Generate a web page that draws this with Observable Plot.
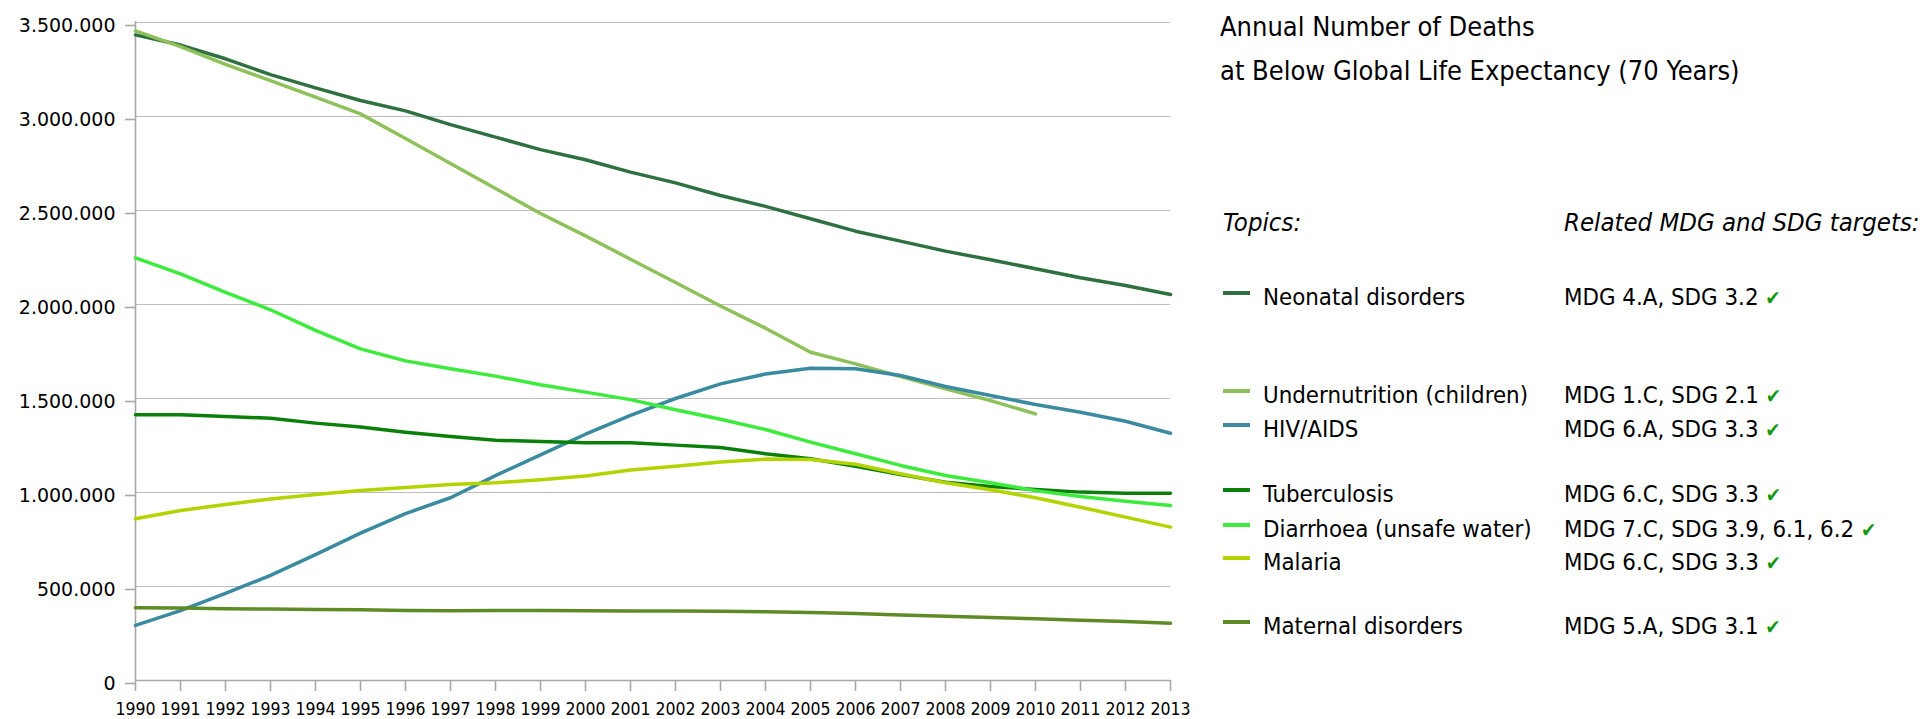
<!DOCTYPE html>
<html><head><meta charset="utf-8">
<script src="https://cdn.jsdelivr.net/npm/d3@7"></script>
<script src="https://cdn.jsdelivr.net/npm/@observablehq/plot@0.6"></script>
<style>
body{margin:0;background:#fff;}
#wrap{position:relative;width:1932px;height:719px;overflow:hidden;font-family:"DejaVu Sans Condensed","DejaVu Sans",sans-serif;color:#000;background:#fff;}
#chart{position:absolute;left:0;top:0;}
.t{position:absolute;white-space:nowrap;line-height:1.2;}
.sw{position:absolute;height:4px;width:27px;}
.ck{color:#119911;font-size:0.85em;}
</style></head><body><div id="wrap"><div id="chart"></div></div>
<script>
// ---- data ----
const years = [1990,1991,1992,1993,1994,1995,1996,1997,1998,1999,2000,2001,2002,2003,2004,2005,2006,2007,2008,2009,2010,2011,2012,2013];
const seriesNames = ["Neonatal disorders","Undernutrition (children)","HIV/AIDS","Tuberculosis","Diarrhoea (unsafe water)","Malaria","Maternal disorders"];
const targets = ["MDG 4.A, SDG 3.2","MDG 1.C, SDG 2.1","MDG 6.A, SDG 3.3","MDG 6.C, SDG 3.3","MDG 7.C, SDG 3.9, 6.1, 6.2","MDG 6.C, SDG 3.3","MDG 5.A, SDG 3.1"];
const colors = ["#2f7040","#8fc15a","#3a8aa0","#0a7f0a","#3deb3d","#b3d400","#5f8b27"];
const neonatal = [3434000,3380000,3307000,3223000,3152000,3085000,3030000,2957000,2890000,2824000,2770000,2704000,2647000,2580000,2522000,2456000,2390000,2337000,2284000,2238000,2190000,2142000,2101000,2053000];
const undernutrition = [3455000,3372000,3277000,3191000,3103000,3014000,2883000,2750000,2617000,2484000,2365000,2241000,2117000,1992000,1874000,1746000,1684000,1617000,1551000,1489000,1418000];
const hiv = [293000,372000,463000,559000,670000,784000,888000,972000,1090000,1200000,1310000,1410000,1500000,1578000,1630000,1661000,1658000,1622000,1564000,1516000,1468000,1427000,1379000,1315000];
const tuberculosis = [1413000,1413000,1404000,1395000,1369000,1348000,1321000,1298000,1278000,1271000,1265000,1265000,1252000,1239000,1206000,1179000,1140000,1095000,1055000,1032000,1016000,1002000,996000,996000];
const diarrhoea = [2248000,2163000,2065000,1972000,1862000,1764000,1700000,1658000,1619000,1573000,1534000,1494000,1440000,1390000,1335000,1268000,1206000,1144000,1090000,1052000,1010000,979000,954000,931000];
const malaria = [860000,904000,936000,966000,989000,1011000,1027000,1043000,1052000,1068000,1088000,1120000,1140000,1162000,1178000,1175000,1150000,1100000,1052000,1015000,972000,922000,869000,816000];
const maternal = [387000,385000,382000,380000,378000,376000,373000,371000,372000,372000,371000,370000,370000,368000,366000,362000,356000,349000,342000,335000,328000,321000,314000,305000];
const yTicks = [0,500000,1000000,1500000,2000000,2500000,3000000,3500000];
const titleLines = ["Annual Number of Deaths","at Below Global Life Expectancy (70 Years)"];
const legendHeaders = ["Topics:","Related MDG and SDG targets:"];

const seriesValues = [neonatal,undernutrition,hiv,tuberculosis,diarrhoea,malaria,maternal];
const data = [];
seriesNames.forEach((s,i)=>seriesValues[i].forEach((v,j)=>data.push({series:s,year:years[j],value:v})));

const fmt = d3.formatLocale({decimal:",",thousands:".",grouping:[3],currency:["",""]}).format(",d");
const axisColor = "#a8a8a8";

const chart = Plot.plot({
  width: 1200, height: 719,
  marginLeft: 135, marginRight: 30, marginTop: 22, marginBottom: 39,
  style: {fontFamily: "DejaVu Sans", fontSize: "19px", color: "#000", background: "#fff", overflow: "visible"},
  x: {domain: [1990, 2013]},
  y: {domain: [0, 3500000]},
  color: {domain: seriesNames, range: colors},
  marks: [
    Plot.gridY(yTicks, {stroke: "#bdbdbd", strokeOpacity: 1, strokeWidth: 1.2}),
    Plot.ruleX([1990], {stroke: axisColor, strokeWidth: 1.6, insetTop: -1}),
    Plot.ruleY([0], {stroke: axisColor, strokeWidth: 1.6}),
    Plot.axisY(yTicks, {tickSize: 10, tickPadding: 10, tickFormat: fmt, stroke: axisColor, strokeWidth: 1.6, fontSize: 19, label: null, dy: 3}),
    Plot.axisX(years, {tickSize: 11, tickPadding: 11, tickFormat: d => String(d), stroke: axisColor, strokeWidth: 1.6, fontFamily: "DejaVu Sans Condensed", fontSize: 17.5, label: null}),
    Plot.line(data, {x: "year", y: "value", z: "series", stroke: "series", strokeWidth: 3.5, curve: "linear", strokeLinejoin: "round"})
  ]
});
document.getElementById("chart").appendChild(chart);

// ---- legend / title (HTML) ----
const wrap = document.getElementById("wrap");
function addText(txt, x, cy, fs, extra){
  const d = document.createElement("div");
  d.className = "t";
  d.style.left = x + "px";
  d.style.top = (cy - 0.58*fs) + "px";
  d.style.fontSize = fs + "px";
  if (extra) Object.assign(d.style, extra);
  d.innerHTML = txt;
  wrap.appendChild(d);
  return d;
}
addText(titleLines[0], 1220, 27, 27);
addText(titleLines[1], 1220, 71, 27);
addText(legendHeaders[0], 1223, 222, 25.5, {fontStyle: "italic"});
addText(legendHeaders[1], 1564, 222, 25.5, {fontStyle: "italic"});
const rowY = [297, 395, 429, 494, 529, 562, 626];
seriesNames.forEach((s,i)=>{
  const sw = document.createElement("div");
  sw.className = "sw";
  sw.style.left = "1223px";
  sw.style.top = (rowY[i] - 6) + "px";
  sw.style.background = colors[i];
  wrap.appendChild(sw);
  addText(s, 1263, rowY[i], 23.8);
  addText(targets[i] + ' <span class="ck">\u2714</span>', 1564, rowY[i], 23.8);
});
</script>
</body></html>
